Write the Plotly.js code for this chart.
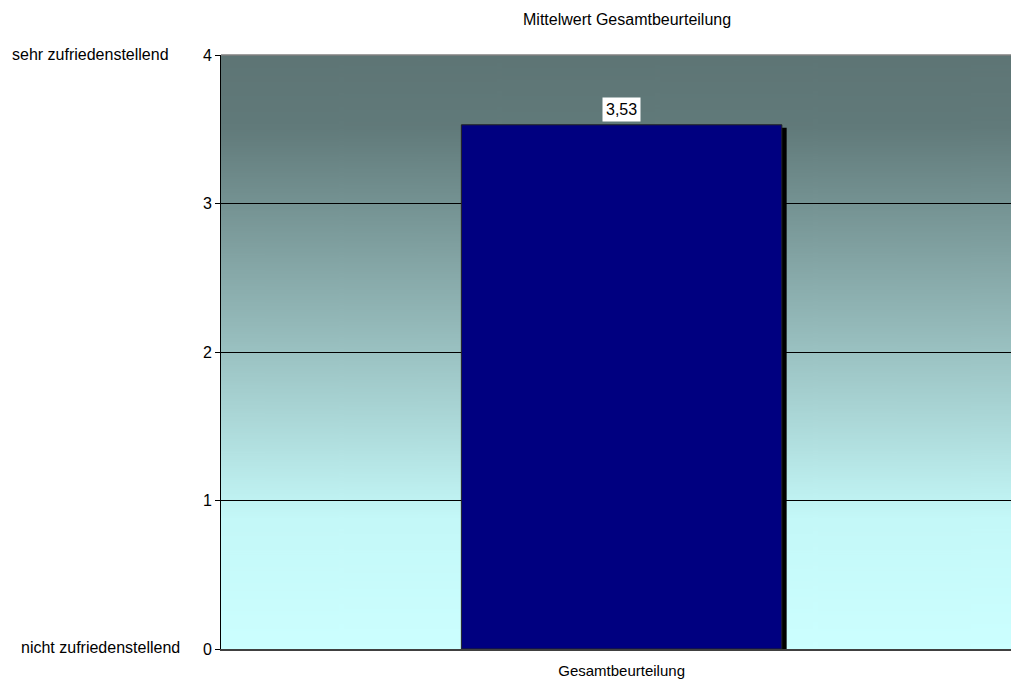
<!DOCTYPE html>
<html><head><meta charset="utf-8">
<script src="https://cdn.plot.ly/plotly-3.0.1.min.js"></script>
<style>html,body{margin:0;padding:0;background:#fff;}#chart{width:1011px;height:680px;}</style>
</head><body><div id="chart"></div>
<script>
const categories = ["Gesamtbeurteilung"];
const values = [3.53];
const yTickVals = [0, 1, 2, 3, 4];
const yTickText = ["0", "1", "2", "3", "4"];
const chartTitle = "Mittelwert Gesamtbeurteilung";
const topLabel = "sehr zufriedenstellend";
const bottomLabel = "nicht zufriedenstellend";

// gradient background image
const cv = document.createElement('canvas');
cv.width = 10; cv.height = 600;
const ctx = cv.getContext('2d');
const g = ctx.createLinearGradient(0, 0, 0, 600);
g.addColorStop(0, '#5e7575');
g.addColorStop(0.12, '#617a7a');
g.addColorStop(0.45, '#93b8b8');
g.addColorStop(0.78, '#c4f8f8');
g.addColorStop(1, '#ccffff');
ctx.fillStyle = g; ctx.fillRect(0, 0, 10, 600);
const bgUrl = cv.toDataURL();

const font = {family: '"Liberation Sans", Arial, sans-serif', size: 16, color: '#000'};
const xFont = {family: '"Liberation Sans", Arial, sans-serif', size: 15, color: '#000'};
const barW = 0.4;
const pxPerUnitY = 594 / 4;
const shadow = {
  type: 'bar', x: categories, y: values.map(v => v - 3 / pxPerUnitY),
  width: barW, offset: -barW / 2 + 0.006,
  marker: {color: '#000000', line: {width: 0}}, hoverinfo: 'skip', showlegend: false
};
const bar = {
  type: 'bar', x: categories, y: values, width: barW,
  marker: {color: '#000080', line: {color: '#222222', width: 1}}, showlegend: false
};
const layout = {
  width: 1011, height: 680,
  margin: {l: 221, r: 0, t: 55, b: 31},
  paper_bgcolor: '#ffffff', plot_bgcolor: 'rgba(0,0,0,0)',
  barmode: 'overlay', font: font, showlegend: false,
  xaxis: {range: [-0.5, 0.486], showgrid: false, zeroline: false,
    showline: true, linecolor: '#404040', linewidth: 2,
    ticks: '', ticklabelstandoff: 7, tickfont: xFont, fixedrange: true},
  yaxis: {range: [0, 4], tickvals: yTickVals, ticktext: yTickText,
    showgrid: true, gridcolor: '#000000', gridwidth: 1, zeroline: false,
    showline: true, linecolor: '#000000', linewidth: 1,
    ticks: 'outside', ticklen: 5, tickcolor: '#000000', tickfont: font, fixedrange: true},
  images: [{source: bgUrl, xref: 'paper', yref: 'paper', x: 0, y: 1, sizex: 1, sizey: 1,
    sizing: 'stretch', layer: 'below', xanchor: 'left', yanchor: 'top'}],
  shapes: [{type: 'line', xref: 'paper', yref: 'paper', x0: 0, x1: 1, y0: 1, y1: 1,
    line: {color: '#808080', width: 1.5}}],
  annotations: [
    {text: chartTitle, xref: 'paper', yref: 'paper', x: (627 - 221) / 790, y: 1, yshift: 36,
      showarrow: false, font: font, xanchor: 'center', yanchor: 'middle'},
    {text: topLabel, xref: 'paper', yref: 'y', x: 0, xshift: -221 + 90, y: 4, yshift: 1,
      showarrow: false, font: font, xanchor: 'center', yanchor: 'middle'},
    {text: bottomLabel, xref: 'paper', yref: 'y', x: 0, xshift: -221 + 100, y: 0, yshift: 2,
      showarrow: false, font: font, xanchor: 'center', yanchor: 'middle'},
    {text: values[0].toFixed(2).replace('.', ','), x: categories[0], y: values[0], yshift: 15,
      showarrow: false, font: font, bgcolor: '#ffffff', borderpad: 3, xanchor: 'center', yanchor: 'middle'}
  ]
};
Plotly.newPlot('chart', [shadow, bar], layout, {displayModeBar: false, staticPlot: true});
</script></body></html>
